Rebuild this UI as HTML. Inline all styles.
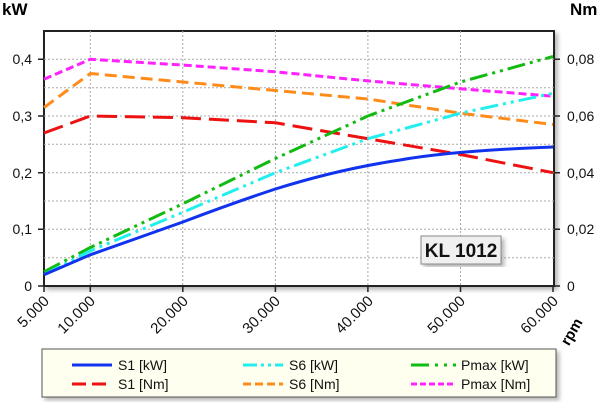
<!DOCTYPE html><html><head><style>body{margin:0;background:#fff}svg{display:block}text{font-family:"Liberation Sans",sans-serif}</style></head><body>
<svg width="600" height="409" viewBox="0 0 600 409">
<defs><filter id="sh" x="-5%" y="-5%" width="115%" height="115%"><feDropShadow dx="3" dy="3" stdDeviation="2" flood-color="#888" flood-opacity="0.6"/></filter></defs>
<rect x="44" y="31" width="510" height="255" fill="#fff" stroke="#222" stroke-width="2" filter="url(#sh)"/>
<g stroke="#aaa" stroke-dasharray="2,2" stroke-width="1">
<path d="M90.3 31V286M182.8 31V286M275.4 31V286M367.9 31V286M460.5 31V286"/>
<path d="M44 257.7H554M44 229.3H554M44 201H554M44 172.7H554M44 144.3H554M44 116H554M44 87.7H554M44 59.3H554"/>
</g>
<g stroke="#222" stroke-width="1.5">
<path d="M38 286H44M38 229.3H44M38 172.7H44M38 116H44M38 59.3H44M554 286H560M554 229.3H560M554 172.7H560M554 116H560M554 59.3H560"/>
<path d="M44 286V292M90.3 286V292M182.8 286V292M275.4 286V292M367.9 286V292M460.5 286V292M553 286V292"/>
</g>
<g fill="none" stroke-width="3">
<polyline stroke="#ff22ff" stroke-dasharray="8,4" points="44,79.2 90.3,59.3 182.8,65 275.4,71.8 367.9,80.9 460.5,88.8 553,96.2"/>
<polyline stroke="#ff8c1a" stroke-dasharray="12,6" points="44,107.5 90.3,73.5 182.8,82 275.4,90.5 367.9,99 460.5,113.2 553,124.5"/>
<polyline stroke="#ee1111" stroke-dasharray="20,8" points="44,133 90.3,116 182.8,117.7 275.4,122.8 367.9,138.7 460.5,154.5 553,172.7"/>
<polyline stroke="#11bb11" stroke-dasharray="18,5,3,5,3,5" points="44,271.8 90.3,247.5 182.8,203.8 275.4,158.5 367.9,116 460.5,82 553,56.5"/>
<polyline stroke="#22eeee" stroke-dasharray="18,5,3,5,3,5" points="44,274.7 90.3,250.9 182.8,212.3 275.4,172.7 367.9,138.7 460.5,113.2 553,93.3"/>
<path stroke="#1133ee" d="M44,274.7 L90.3,254.8 L182.8,222 Q230,204 275.4,189 C320,175 360,166 400,160 C440,153 500,149 553,147"/>
</g>
<rect x="421" y="236" width="80" height="28" fill="#f0f0f0" stroke="#888" filter="url(#sh)"/>
<text x="461" y="257" text-anchor="middle" font-size="19" font-weight="bold" fill="#111">KL 1012</text>
<g font-size="14" fill="#111" text-anchor="end">
<text x="32" y="291">0</text><text x="32" y="234">0,1</text><text x="32" y="178">0,2</text><text x="32" y="121">0,3</text><text x="32" y="64">0,4</text>
</g>
<g font-size="14" fill="#111">
<text x="567" y="291">0</text><text x="567" y="234">0,02</text><text x="567" y="178">0,04</text><text x="567" y="121">0,06</text><text x="567" y="64">0,08</text>
</g>
<text x="2" y="15" font-size="17" font-weight="bold">kW</text>
<text x="570" y="15" font-size="17" font-weight="bold">Nm</text>
<g font-size="15" fill="#111" text-anchor="end">
<text transform="translate(50,302) rotate(-45)">5.000</text>
<text transform="translate(96,302) rotate(-45)">10.000</text>
<text transform="translate(189,302) rotate(-45)">20.000</text>
<text transform="translate(281,302) rotate(-45)">30.000</text>
<text transform="translate(374,302) rotate(-45)">40.000</text>
<text transform="translate(466,302) rotate(-45)">50.000</text>
<text transform="translate(559,302) rotate(-45)">60.000</text>
</g>
<text transform="translate(583,322) rotate(-60)" font-size="15" font-weight="bold" text-anchor="end">rpm</text>
<rect x="42" y="349" width="514" height="48" fill="#fffff0" stroke="#555" filter="url(#sh)"/>
<g stroke-width="3" fill="none">
<path d="M72 365H112" stroke="#1133ee"/>
<path d="M72 384H112" stroke="#ee1111" stroke-dasharray="14,6"/>
<path d="M243 365H283" stroke="#22eeee" stroke-dasharray="14,4,3,4,3,4"/>
<path d="M243 384H283" stroke="#ff8c1a" stroke-dasharray="8,4"/>
<path d="M411 365H456" stroke="#11bb11" stroke-dasharray="18,6,3,6,3,6"/>
<path d="M411 384H456" stroke="#ff22ff" stroke-dasharray="6,3"/>
</g>
<g font-size="14" fill="#111">
<text x="118" y="370">S1 [kW]</text><text x="118" y="389">S1 [Nm]</text>
<text x="289" y="370">S6 [kW]</text><text x="289" y="389">S6 [Nm]</text>
<text x="461" y="370">Pmax [kW]</text><text x="461" y="389">Pmax [Nm]</text>
</g>
</svg></body></html>
